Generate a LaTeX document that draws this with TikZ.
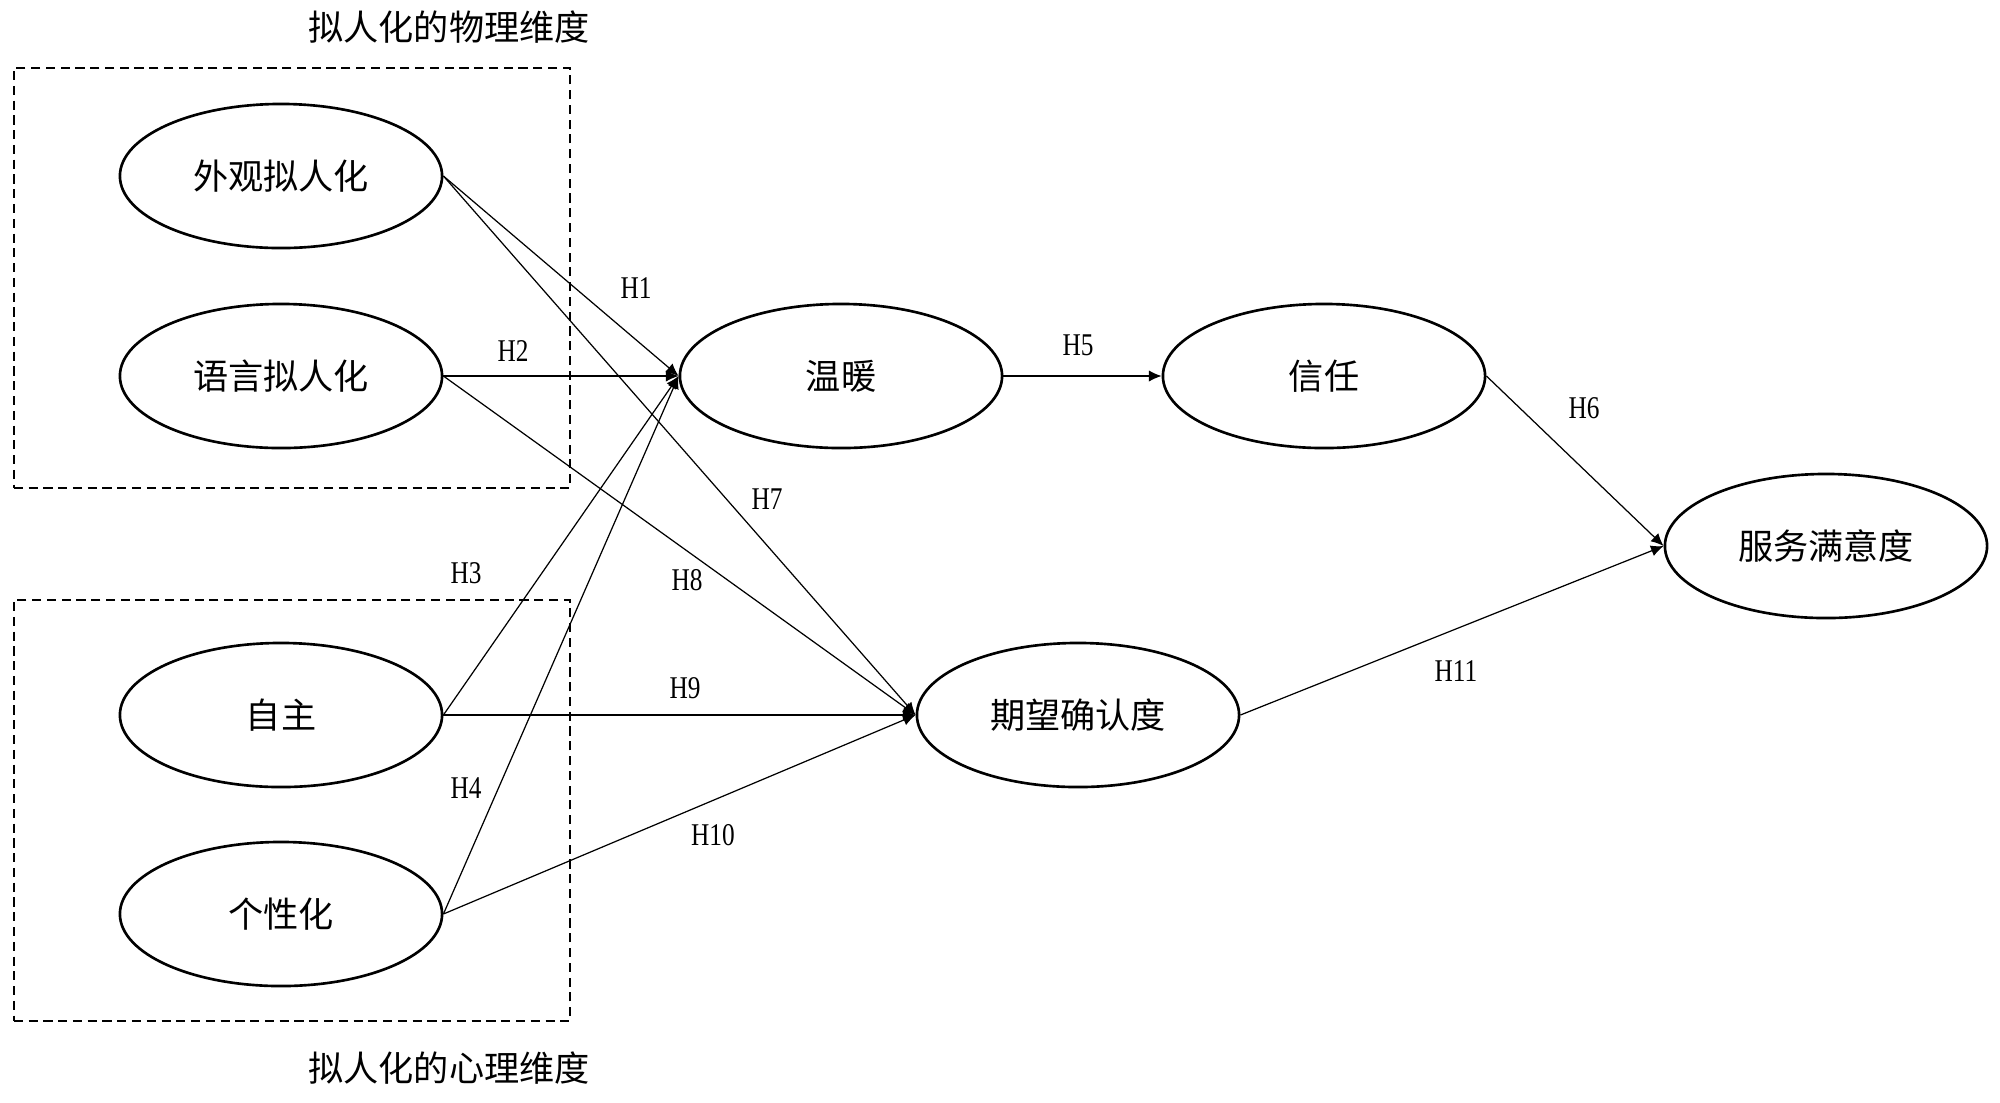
\documentclass[tikz,border=0pt]{standalone}
\usepackage{fontspec}
\setmainfont{Liberation Serif}
\newfontfamily\cjk{Noto Sans CJK SC}
\newfontfamily\hfont[FakeStretch=0.8]{Liberation Serif}
\usetikzlibrary{arrows.meta,shapes.geometric}
\newcommand\vtxt[1]{\raisebox{-2.2pt}{#1}}
\begin{document}
\begin{tikzpicture}[x=0.01cm,y=-0.01cm,
  var/.style={draw, line width=0.75pt, ellipse, minimum width=3.22cm, minimum height=1.44cm, inner sep=0pt, font=\cjk\fontsize{10}{12}\selectfont},
  grp/.style={draw, line width=0.7pt, dash pattern=on 2.6pt off 1.6pt, inner sep=0pt},
  arr/.style={line width=0.35pt, -{Latex[length=3.6pt,width=3.2pt]}},
  hl/.style={font=\hfont\fontsize{9}{10}\selectfont, inner sep=0pt},
  ttl/.style={font=\cjk\fontsize{10}{12}\selectfont, inner sep=0pt}]
\useasboundingbox (0,0) rectangle (2000,1102);
% group boxes
\node[grp, minimum width=5.56cm, minimum height=4.20cm] (g1) at (292,278) {};
\node[grp, minimum width=5.56cm, minimum height=4.21cm] (g2) at (292,810.5) {};
\node[ttl] (t1) at (449,27) {拟人化的物理维度};
\node[ttl] (t2) at (449,1068) {拟人化的心理维度};
% variables
\node[var] (wg) at (281,176) {\vtxt{外观拟人化}};
\node[var] (yy) at (281,376) {\vtxt{语言拟人化}};
\node[var] (zz) at (281,715) {\vtxt{自主}};
\node[var] (gx) at (281,914) {\vtxt{个性化}};
\node[var] (wn) at (841,376) {\vtxt{温暖}};
\node[var] (xr) at (1324,376) {\vtxt{信任}};
\node[var] (qw) at (1078,715) {\vtxt{期望确认度}};
\node[var] (fw) at (1826,546) {\vtxt{服务满意度}};
% connectors
\draw[arr] (wg.east) -- (wn.west);
\draw[arr] (yy.east) -- (wn.west);
\draw[arr] (zz.east) -- (wn.west);
\draw[arr] (gx.east) -- (wn.west);
\draw[arr] (wg.east) -- (qw.west);
\draw[arr] (yy.east) -- (qw.west);
\draw[arr] (zz.east) -- (qw.west);
\draw[arr] (gx.east) -- (qw.west);
\draw[arr] (wn.east) -- (xr.west);
\draw[arr] (xr.east) -- (fw.west);
\draw[arr] (qw.east) -- (fw.west);
% labels
\node[hl] (h1) at (636,288) {H1};
\node[hl] (h2) at (513,351) {H2};
\node[hl] (h3) at (466,573) {H3};
\node[hl] (h4) at (466,788) {H4};
\node[hl] (h5) at (1078,345) {H5};
\node[hl] (h6) at (1584,408) {H6};
\node[hl] (h7) at (767,499) {H7};
\node[hl] (h8) at (687,580) {H8};
\node[hl] (h9) at (685,688) {H9};
\node[hl] (h10) at (713,835) {H10};
\node[hl] (h11) at (1456,671) {H11};
\end{tikzpicture}
\end{document}
